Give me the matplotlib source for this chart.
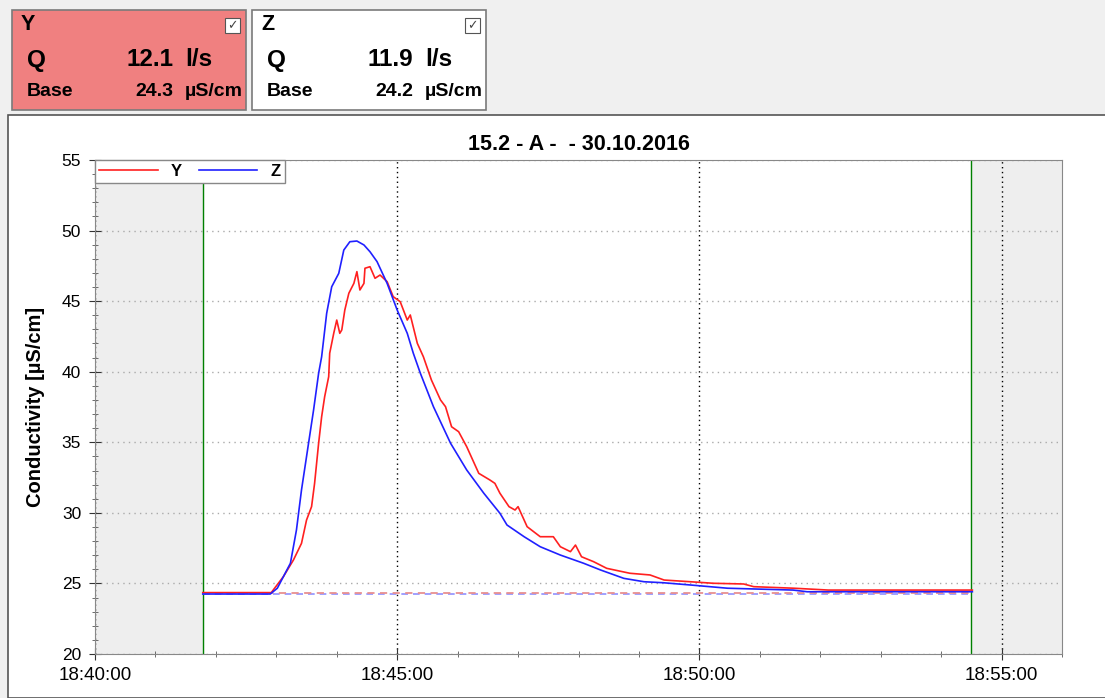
#conductivity trace, two sensors
import numpy as np
import matplotlib
matplotlib.use('Agg')
from matplotlib import pyplot as plt
import matplotlib.dates as mdates
from matplotlib.patches import Rectangle

plt.rcParams['font.family'] = ['Liberation Sans', 'DejaVu Sans']

# seconds after 18:40:00 and conductivity [uS/cm]
y_sec = [107, 175, 187, 197, 205, 210, 215, 218, 222, 225, 228, 232, 233, 237, 240,
         243, 245, 248, 252, 257, 260, 263, 267, 268, 273, 278, 283, 290, 296, 303,
         310, 313, 320, 326, 334, 343, 348, 354, 361, 369, 381, 392, 397, 402, 411,
         417, 420, 429, 442, 455, 462, 472, 477, 483, 495, 508, 531, 551, 565, 591,
         614, 644, 654, 694, 728, 871]
y_val = [24.35, 24.35, 25.48, 26.66, 27.84, 29.49, 30.44, 32.09, 34.93, 36.81, 38.23, 39.65, 41.31, 42.72, 43.66,
         42.72, 42.96, 44.37, 45.56, 46.26, 47.09, 45.79, 46.26, 47.33, 47.44, 46.62, 46.85, 46.38, 45.32, 44.96,
         43.66, 44.02, 42.01, 41.06, 39.41, 38.00, 37.52, 36.10, 35.75, 34.69, 32.80, 32.33, 32.09, 31.39, 30.44,
         30.20, 30.44, 29.02, 28.31, 28.31, 27.60, 27.25, 27.72, 26.89, 26.54, 26.07, 25.72, 25.60, 25.24, 25.12,
         25.01, 24.96, 24.77, 24.66, 24.53, 24.53]

z_sec = [107, 174, 181, 194, 200, 205, 212, 217, 222, 225, 230, 235, 242, 247, 253,
         260, 267, 273, 280, 290, 300, 310, 316, 323, 336, 353, 369, 386, 402, 409,
         426, 442, 462, 485, 502, 525, 545, 564, 591, 628, 693, 707, 871]
z_val = [24.25, 24.25, 24.66, 26.43, 28.79, 31.62, 34.93, 37.29, 39.89, 41.06, 44.14, 46.02, 46.97, 48.62, 49.21,
         49.26, 48.98, 48.50, 47.80, 46.26, 44.37, 42.72, 41.31, 39.89, 37.52, 34.93, 33.04, 31.39, 29.97, 29.14,
         28.31, 27.60, 27.01, 26.43, 25.95, 25.36, 25.12, 25.05, 24.89, 24.66, 24.53, 24.41, 24.41]

base_y = 24.35
base_z = 24.25
win_start = 107
win_end = 870

names = ['Y', 'Z']
q_vals = ['12.1', '11.9']
base_vals = ['24.3', '24.2']
box_colors = ['#f08080', 'white']

t0 = np.datetime64('2016-10-30T18:40:00')
def tt(s):
    return t0 + np.array(s).astype('timedelta64[s]')

fig = plt.figure(figsize=(11.05, 6.98), dpi=100, facecolor='#f0f0f0')
W, H = 1105.0, 698.0

# white chart panel
fig.patches.append(Rectangle((8 / W, 0), 1.0, 583 / H, transform=fig.transFigure,
                             facecolor='white', edgecolor='#555555', lw=1.2, zorder=-5))

# info boxes
for i in range(2):
    x0 = 12 + i * 240
    fig.patches.append(Rectangle((x0 / W, 1 - 110 / H), 234 / W, 100 / H, transform=fig.transFigure,
                                 facecolor=box_colors[i], edgecolor='#7a7a7a', lw=1.2, zorder=-5))
    fig.patches.append(Rectangle(((x0 + 213) / W, 1 - 33 / H), 15 / W, 15 / H, transform=fig.transFigure,
                                 facecolor='white', edgecolor='#555555', lw=0.8, zorder=-4))
    fig.text((x0 + 220.5) / W, 1 - 25.5 / H, '\u2713', ha='center', va='center', fontsize=9,
             color='#444444', family=['DejaVu Sans'])
    fig.text((x0 + 9) / W, 1 - 24 / H, names[i], fontsize=15.5, weight='bold', va='center')
    fig.text((x0 + 15) / W, 1 - 60 / H, 'Q', fontsize=17.5, weight='bold', va='center')
    fig.text((x0 + 161) / W, 1 - 60 / H, q_vals[i], fontsize=17.5, weight='bold', va='center', ha='right')
    fig.text((x0 + 173) / W, 1 - 60 / H, 'l/s', fontsize=17.5, weight='bold', va='center')
    fig.text((x0 + 15) / W, 1 - 91 / H, 'Base', fontsize=14, weight='bold', va='center')
    fig.text((x0 + 161) / W, 1 - 91 / H, base_vals[i], fontsize=14, weight='bold', va='center', ha='right')
    fig.text((x0 + 173) / W, 1 - 91 / H, '\u00b5S/cm', fontsize=14, weight='bold', va='center')

ax = fig.add_axes([95 / W, 44 / H, 967 / W, 494 / H])

xmin, xmax = tt(0), tt(960)
ax.axvspan(xmin, tt(win_start), color='#eeeeee', zorder=0)
ax.axvspan(tt(win_end), xmax, color='#eeeeee', zorder=0)
ax.axvline(tt(win_start), color='#008000', lw=1, zorder=2)
ax.axvline(tt(win_end), color='#008000', lw=1, zorder=2)

ax.plot([tt(win_start), tt(win_end)], [base_z, base_z], color='#9090ff', lw=1.2, ls=(0, (4, 3)), zorder=3)
ax.plot([tt(win_start), tt(win_end)], [base_y, base_y], color='#e89090', lw=1.3, ls=(0, (4, 3)), zorder=3)

ax.plot(tt(y_sec), y_val, color='#ff2020', lw=1.2, label='Y', zorder=4)
ax.plot(tt(z_sec), z_val, color='#2020ff', lw=1.2, label='Z', zorder=4)

ax.set_xlim(xmin, xmax)
ax.set_ylim(20, 55)
ax.set_yticks(np.arange(20, 56, 5))
ax.yaxis.set_minor_locator(plt.MultipleLocator(1))
ax.xaxis.set_major_locator(mdates.MinuteLocator(byminute=[40, 45, 50, 55]))
ax.xaxis.set_minor_locator(mdates.MinuteLocator())
ax.xaxis.set_major_formatter(mdates.DateFormatter('%H:%M:%S'))

ax.grid(axis='y', which='major', color='#aaaaaa', ls=(0, (1, 3)), lw=1)
ax.grid(axis='x', which='major', color='black', ls=(0, (1, 2.5)), lw=1)
ax.tick_params(axis='both', which='major', direction='inout', length=8, color='#333333')
ax.tick_params(axis='both', which='minor', direction='inout', length=4, color='#555555')
ax.tick_params(axis='x', which='major', labelsize=13.5, pad=5)
ax.tick_params(axis='y', which='major', labelsize=12.5, pad=6)
for sp in ax.spines.values():
    sp.set_color('#888888')

ax.set_ylabel('Conductivity [\u00b5S/cm]', fontsize=14.5, weight='bold', labelpad=12)
ax.set_title('15.2 - A -  - 30.10.2016', fontsize=15.5, weight='bold', pad=7)

leg = ax.legend(loc='upper left', ncol=2, fancybox=False, framealpha=1, edgecolor='#888888',
                borderaxespad=0, prop={'weight': 'bold', 'size': 12}, handlelength=3.5,
                columnspacing=1.0, borderpad=0.25)
leg.get_frame().set_linewidth(1)

fig.savefig('out.png', dpi=100, facecolor=fig.get_facecolor())
